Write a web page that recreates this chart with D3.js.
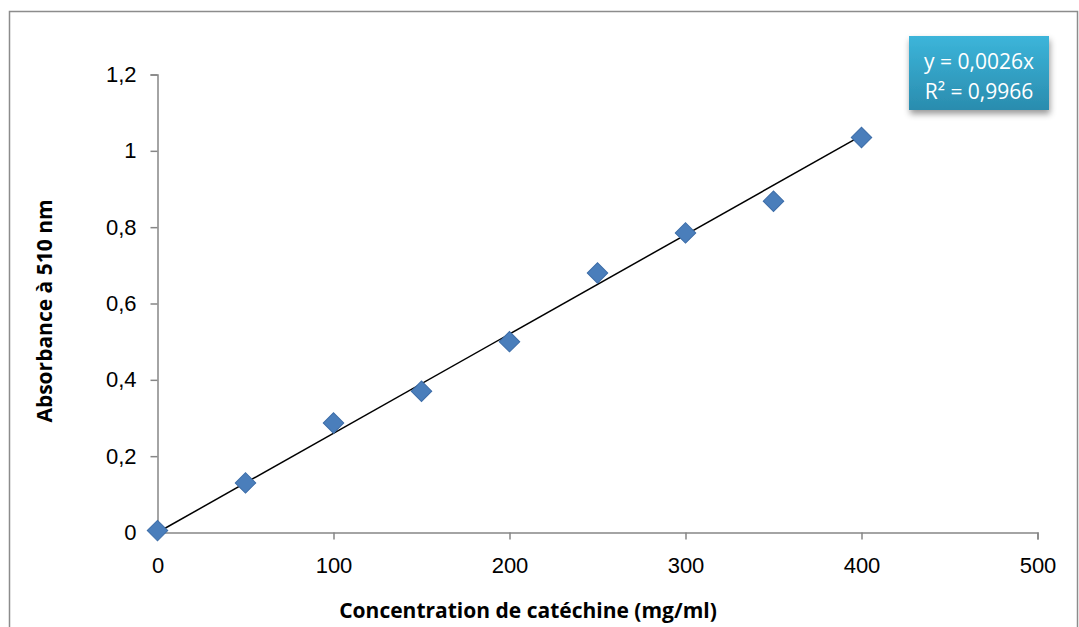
<!DOCTYPE html>
<html>
<head>
<meta charset="utf-8">
<script src="https://cdn.jsdelivr.net/npm/d3@7"></script>
<style>
  body { margin: 0; background: #fff; }
  svg { font-family: "Open Sans", "Liberation Sans", sans-serif; }
</style>
</head>
<body>
<svg width="1079" height="627"></svg>
<script>
// Data
let concentrations = [0, 50, 100, 150, 200, 250, 300, 350, 400];
let absorbances = [0.005, 0.13, 0.287, 0.37, 0.50, 0.68, 0.785, 0.868, 1.035];
let slope = 0.0026;
let xTicks = [0, 100, 200, 300, 400, 500];
let yTicks = [0, 0.2, 0.4, 0.6, 0.8, 1, 1.2];
let labelLines = ["y = 0,0026x", "R² = 0,9966"];

let svg = d3.select("svg");
let fmt = d3.formatLocale({ decimal: ",", thousands: " ", grouping: [3], currency: ["", ""] }).format("~g");

// outer chart border
svg.append("rect")
  .attr("x", 9.5).attr("y", 11.5)
  .attr("width", 1068).attr("height", 640)
  .attr("fill", "none")
  .attr("stroke", "#8c8c8c")
  .attr("stroke-width", 1.5);

let x = d3.scaleLinear().domain([0, 500]).range([157.5, 1037.5]);
let y = d3.scaleLinear().domain([0, 1.2]).range([532.5, 74.5]);

// x axis
let xAxis = svg.append("g")
  .attr("transform", "translate(0," + y(0) + ")")
  .call(d3.axisBottom(x).tickValues(xTicks).tickSize(7).tickPadding(18).tickFormat(fmt));

// y axis
let yAxis = svg.append("g")
  .attr("transform", "translate(" + x(0) + ",0)")
  .call(d3.axisLeft(y).tickValues(yTicks).tickSize(7).tickPadding(14).tickFormat(fmt));

[xAxis, yAxis].forEach(function(a) {
  a.select(".domain").attr("stroke", "#868686").attr("stroke-width", 1.5);
  a.selectAll(".tick line").attr("stroke", "#868686").attr("stroke-width", 1.5);
  a.selectAll(".tick text")
    .attr("fill", "#000")
    .style("font-size", "22px");
});
yAxis.select(".tick line").attr("x2", 0); // no tick at origin

// axis titles
svg.append("text")
  .attr("x", 528).attr("y", 618)
  .attr("text-anchor", "middle")
  .style("font-size", "21px")
  .style("font-weight", "bold")
  .text("Concentration de catéchine (mg/ml)");

svg.append("text")
  .attr("transform", "translate(52,311) rotate(-90)")
  .attr("text-anchor", "middle")
  .style("font-size", "21px")
  .style("font-weight", "bold")
  .text("Absorbance à 510 nm");

// trend line
svg.append("line")
  .attr("x1", x(0)).attr("y1", y(0))
  .attr("x2", x(400)).attr("y2", y(slope * 400))
  .attr("stroke", "#000")
  .attr("stroke-width", 1.5);

// markers
svg.append("g")
  .selectAll("path")
  .data(concentrations)
  .enter()
  .append("path")
  .attr("d", d3.symbol().type(d3.symbolSquare).size(210))
  .attr("transform", (d, i) => "translate(" + x(d) + "," + y(absorbances[i]) + ") rotate(45)")
  .attr("fill", "#4a7ebb")
  .attr("stroke", "#3d6da8")
  .attr("stroke-width", 1);

// equation label
let defs = svg.append("defs");
let grad = defs.append("linearGradient")
  .attr("id", "lbl").attr("x1", "0%").attr("y1", "0%").attr("x2", "0%").attr("y2", "100%");
grad.append("stop").attr("offset", "0%").attr("stop-color", "#3cb5da");
grad.append("stop").attr("offset", "100%").attr("stop-color", "#2a8cae");
let shadow = defs.append("filter").attr("id", "shd").attr("x", "-20%").attr("y", "-20%").attr("width", "140%").attr("height", "150%");
shadow.append("feDropShadow").attr("dx", 1).attr("dy", 4).attr("stdDeviation", 3).attr("flood-color", "#000").attr("flood-opacity", 0.4);

svg.append("rect")
  .attr("x", 909).attr("y", 36)
  .attr("width", 140).attr("height", 74)
  .attr("fill", "url(#lbl)")
  .attr("filter", "url(#shd)");

svg.selectAll(".lbl")
  .data(labelLines)
  .enter()
  .append("text")
  .attr("class", "lbl")
  .attr("x", 979)
  .attr("y", (d, i) => 69 + i * 30)
  .attr("text-anchor", "middle")
  .attr("fill", "#fff")
  .style("font-size", "21px")
  .text(d => d);
</script>
</body>
</html>
